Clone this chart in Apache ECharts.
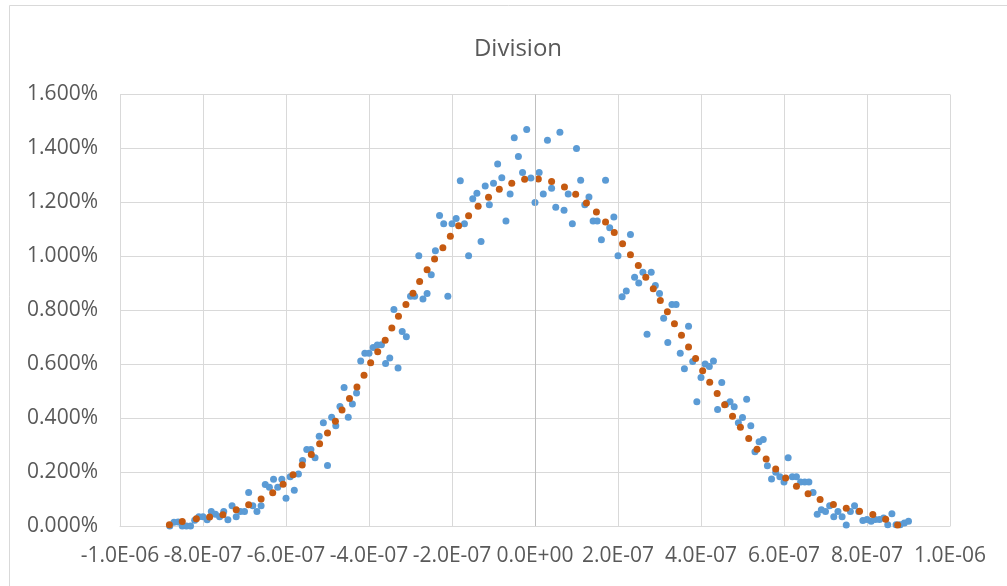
<!DOCTYPE html>
<html>
<head>
<meta charset="utf-8">
<script src="https://cdn.jsdelivr.net/npm/echarts@6/dist/echarts.min.js"></script>
<style>
    html, body { margin: 0; padding: 0; background: #ffffff; }
    #chart { width: 1007px; height: 586px; }
</style>
</head>
<body>
<div id="chart"></div>
<script>
// x values in units of 1e-6, y values in percent
const blueX = [
    -0.88, -0.87, -0.86, -0.85, -0.84, -0.83, -0.82, -0.81, -0.80, -0.79,
    -0.78, -0.77, -0.76, -0.75, -0.74, -0.73, -0.72, -0.71, -0.70, -0.69,
    -0.68, -0.67, -0.66, -0.65, -0.64, -0.63, -0.62, -0.61, -0.60, -0.59,
    -0.58, -0.57, -0.56, -0.55, -0.54, -0.53, -0.52, -0.51, -0.50, -0.49,
    -0.48, -0.47, -0.46, -0.45, -0.44, -0.43, -0.42, -0.41, -0.40, -0.39,
    -0.38, -0.37, -0.36, -0.35, -0.34, -0.33, -0.32, -0.31, -0.30, -0.29,
    -0.28, -0.27, -0.26, -0.25, -0.24, -0.23, -0.22, -0.21, -0.20, -0.19,
    -0.18, -0.17, -0.16, -0.15, -0.14, -0.13, -0.12, -0.11, -0.10, -0.09,
    -0.08, -0.07, -0.06, -0.05, -0.04, -0.03, -0.02, -0.01, 0.00, 0.01,
    0.02, 0.03, 0.04, 0.05, 0.06, 0.07, 0.08, 0.09, 0.10, 0.11,
    0.12, 0.13, 0.14, 0.15, 0.16, 0.17, 0.18, 0.19, 0.20, 0.21,
    0.22, 0.23, 0.24, 0.25, 0.26, 0.27, 0.28, 0.29, 0.30, 0.31,
    0.32, 0.33, 0.34, 0.35, 0.36, 0.37, 0.38, 0.39, 0.40, 0.41,
    0.42, 0.43, 0.44, 0.45, 0.46, 0.47, 0.48, 0.49, 0.50, 0.51,
    0.52, 0.53, 0.54, 0.55, 0.56, 0.57, 0.58, 0.59, 0.60, 0.61,
    0.62, 0.63, 0.64, 0.65, 0.66, 0.67, 0.68, 0.69, 0.70, 0.71,
    0.72, 0.73, 0.74, 0.75, 0.76, 0.77, 0.78, 0.79, 0.80, 0.81,
    0.82, 0.83, 0.84, 0.85, 0.86, 0.87, 0.88, 0.89, 0.90
];
const blueY = [
    0, 0.014, 0.015, 0, 0, 0, 0.021, 0.034, 0.034, 0.023,
    0.054, 0.044, 0.034, 0.054, 0.023, 0.075, 0.034, 0.054, 0.054, 0.124,
    0.075, 0.054, 0.075, 0.154, 0.144, 0.173, 0.144, 0.173, 0.103, 0.183,
    0.133, 0.193, 0.243, 0.284, 0.284, 0.253, 0.333, 0.383, 0.224, 0.403,
    0.372, 0.443, 0.514, 0.403, 0.452, 0.493, 0.612, 0.641, 0.641, 0.662,
    0.671, 0.672, 0.603, 0.623, 0.803, 0.586, 0.721, 0.702, 0.852, 0.852,
    1.002, 0.842, 0.862, 0.932, 1.021, 1.151, 1.121, 0.852, 1.121, 1.140,
    1.280, 1.121, 1.002, 1.213, 1.234, 1.055, 1.261, 1.191, 1.271, 1.342,
    1.291, 1.131, 1.231, 1.440, 1.370, 1.311, 1.470, 1.290, 1.200, 1.311,
    1.231, 1.430, 1.252, 1.182, 1.460, 1.171, 1.231, 1.121, 1.400, 1.282,
    1.191, 1.220, 1.131, 1.131, 1.061, 1.282, 1.106, 1.146, 1.002, 0.850,
    0.871, 1.081, 0.922, 0.901, 0.941, 0.711, 0.941, 0.892, 0.862, 0.770,
    0.680, 0.821, 0.821, 0.641, 0.583, 0.741, 0.610, 0.461, 0.551, 0.601,
    0.591, 0.612, 0.432, 0.532, 0.451, 0.461, 0.442, 0.383, 0.402, 0.470,
    0.372, 0.275, 0.312, 0.321, 0.223, 0.174, 0.199, 0.183, 0.163, 0.253,
    0.183, 0.183, 0.163, 0.163, 0.163, 0.124, 0.044, 0.060, 0.054, 0.075,
    0.034, 0.054, 0.034, 0.004, 0.054, 0.075, 0.054, 0.020, 0.024, 0.018,
    0.024, 0.024, 0.030, 0.005, 0.045, 0.005, 0.005, 0.011, 0.018
];
const orangeX = [
    -0.881, -0.850, -0.816, -0.784, -0.752, -0.720, -0.690, -0.660, -0.632, -0.607,
    -0.583, -0.561, -0.539, -0.519, -0.500, -0.481, -0.465, -0.447, -0.429, -0.412,
    -0.396, -0.379, -0.361, -0.345, -0.329, -0.311, -0.294, -0.278, -0.260, -0.242,
    -0.222, -0.204, -0.184, -0.160, -0.137, -0.112, -0.086, -0.056, -0.025, 0.008,
    0.040, 0.071, 0.098, 0.124, 0.148, 0.170, 0.191, 0.211, 0.230, 0.249,
    0.267, 0.285, 0.302, 0.319, 0.336, 0.353, 0.370, 0.387, 0.404, 0.421,
    0.439, 0.457, 0.476, 0.495, 0.515, 0.535, 0.557, 0.580, 0.604, 0.630,
    0.658, 0.687, 0.719, 0.750, 0.782, 0.814, 0.845, 0.874
];
const orangeY = [
    0.005, 0.017, 0.027, 0.033, 0.042, 0.060, 0.079, 0.100, 0.123, 0.155,
    0.190, 0.226, 0.265, 0.305, 0.345, 0.388, 0.430, 0.473, 0.515, 0.559,
    0.605, 0.646, 0.689, 0.734, 0.778, 0.821, 0.863, 0.907, 0.950, 0.990,
    1.032, 1.074, 1.113, 1.150, 1.186, 1.219, 1.249, 1.271, 1.286, 1.287,
    1.277, 1.257, 1.230, 1.198, 1.164, 1.127, 1.088, 1.047, 1.006, 0.966,
    0.922, 0.880, 0.836, 0.794, 0.750, 0.707, 0.664, 0.621, 0.576, 0.533,
    0.491, 0.450, 0.407, 0.366, 0.324, 0.285, 0.248, 0.211, 0.178, 0.147,
    0.120, 0.098, 0.080, 0.066, 0.055, 0.043, 0.025, 0.004
];
const xTicks = { min: -1, max: 1, step: 0.2 };
const yTicks = { min: 0, max: 1.6, step: 0.2 };

const textColor = '#595959';
const font = 'Open Sans';

function sciLabel(v) {
    // 1e-6 units -> Excel style 0.0E+00
    let s = (v * 1e-6).toExponential(1);
    if (Math.abs(v) < 1e-9) s = (0).toExponential(1);
    let parts = s.split('e');
    let exp = parseInt(parts[1], 10);
    let sign = exp < 0 ? '-' : '+';
    let e = Math.abs(exp);
    return parts[0] + 'E' + sign + (e < 10 ? '0' + e : e);
}

const chart = echarts.init(document.getElementById('chart'), null, { renderer: 'canvas' });

let option = {
    animation: false,
    backgroundColor: '#ffffff',
    title: {
        text: 'Division',
        left: 513,
        top: 32,
        textAlign: 'center',
        textStyle: {
            color: textColor,
            fontFamily: font,
            fontSize: 24,
            fontWeight: 'normal'
        }
    },
    graphic: [
        {
            type: 'rect',
            silent: true,
            z: -10,
            shape: { x: 9.5, y: 5.5, width: 1100, height: 700 },
            style: { fill: 'none', stroke: '#d9d9d9', lineWidth: 1 }
        }
    ],
    grid: {
        left: 120,
        right: 57,
        top: 94.5,
        bottom: 60,
        containLabel: false
    },
    xAxis: {
        type: 'value',
        min: xTicks.min,
        max: xTicks.max,
        interval: xTicks.step,
        axisLine: { show: true, onZero: false, lineStyle: { color: '#d9d9d9' } },
        axisTick: { show: false },
        splitLine: { show: true, lineStyle: { color: '#d9d9d9' } },
        axisLabel: {
            margin: 20,
            color: textColor,
            fontFamily: font,
            fontSize: 21,
            formatter: sciLabel
        }
    },
    yAxis: {
        type: 'value',
        min: yTicks.min,
        max: yTicks.max,
        interval: yTicks.step,
        axisLine: { show: false },
        axisTick: { show: false },
        splitLine: { show: true, lineStyle: { color: '#d9d9d9' } },
        axisLabel: {
            margin: 22,
            color: textColor,
            fontFamily: font,
            fontSize: 21,
            formatter: function (v) {
                return v.toFixed(3) + '%';
            }
        }
    },
    series: [
        {
            name: 'Measured',
            type: 'scatter',
            symbolSize: 7,
            itemStyle: { color: '#5B9BD5', opacity: 1 },
            emphasis: { disabled: true },
            data: blueX.map((x, i) => [x, blueY[i]]),
            markLine: {
                silent: true,
                symbol: ['none', 'none'],
                label: { show: false },
                lineStyle: { color: '#bfbfbf', type: 'solid', width: 1 },
                data: [{ xAxis: 0 }]
            }
        },
        {
            name: 'Fit',
            type: 'scatter',
            symbolSize: 7,
            itemStyle: { color: '#C55A11', opacity: 1 },
            emphasis: { disabled: true },
            data: orangeX.map((x, i) => [x, orangeY[i]])
        }
    ]
};
chart.setOption(option);
</script>
</body>
</html>
